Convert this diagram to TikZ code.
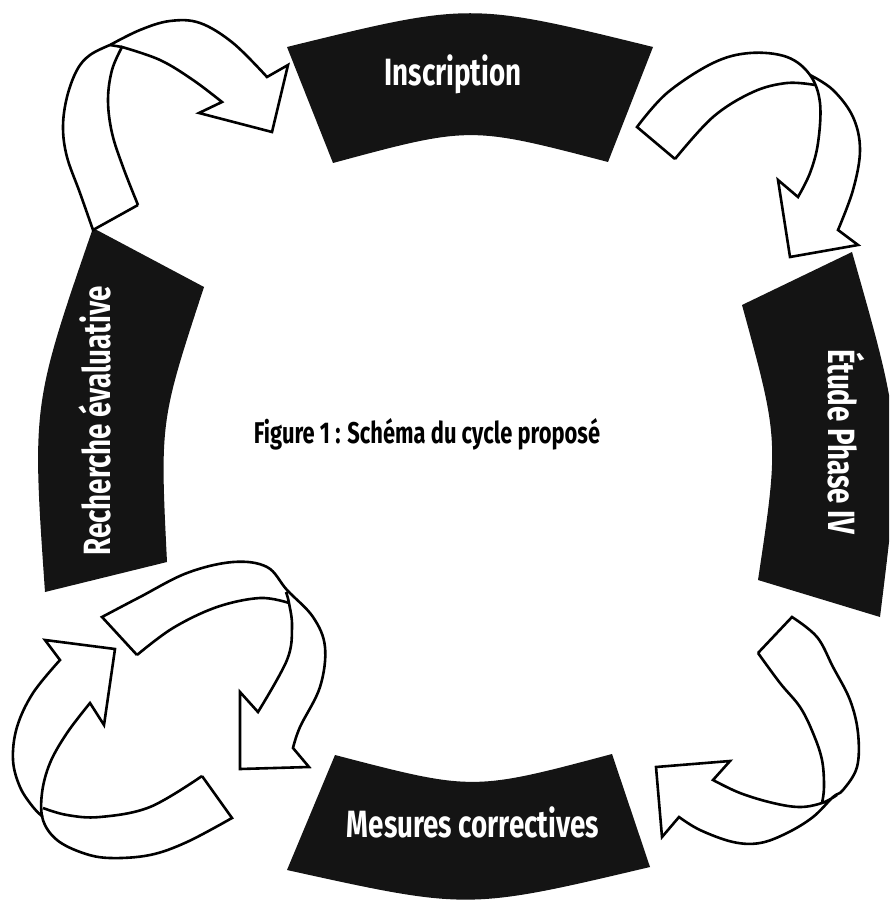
\documentclass[tikz,border=0pt]{standalone}
\usepackage{fontspec}
\newfontfamily\cyclefont[FakeStretch=0.73]{Fira Sans}

\begin{document}
\begin{tikzpicture}[
    x=0.5pt, y=-0.5pt,
    phase/.style={fill=black!92, draw=none},
    phaselabel/.style={text=white, font=\cyclefont\bfseries\fontsize{19}{19}\selectfont, anchor=base, inner sep=0pt},
    titletext/.style={text=black, font=\cyclefont\bfseries\fontsize{15}{15}\selectfont, anchor=base, inner sep=0pt},
    ribbon/.style={draw=black, line width=1.3pt, line join=miter},
    smoothcurve/.style={smooth, tension=0.6}
]
\useasboundingbox (0,0) rectangle (889,903);
\clip (0,0) rectangle (889,903);

% the four phases of the cycle
\fill[phase] (287,47) .. controls (470,2) .. (653,47) -- (608,162) .. controls (470,126) .. (333,163) -- cycle;
\fill[phase] (852,252) .. controls (903,431) .. (880,617) -- (758,580) .. controls (779,440) .. (742,305) -- cycle;
\fill[phase] (335,755) .. controls (473,791) .. (612,754) -- (650,867) .. controls (468,910) .. (287,870) -- cycle;
\fill[phase] (93,228) -- (204,287) .. controls (160,421) .. (167,562) -- (45,592) .. controls (32,405) .. (93,228) -- cycle;

\node[phaselabel] (inscription) at (453,86) {Inscription};
\node[phaselabel, rotate=-90] (etude) at (828,442) {Étude Phase IV};
\node[phaselabel] (mesures) at (473,837) {Mesures correctives};
\node[phaselabel, rotate=90] (recherche) at (110,421) {Recherche évaluative};

% caption in the middle
\node[titletext] (title) at (427,443) {Figure 1 : Schéma du cycle proposé};

% Recherche -> Inscription
\draw[ribbon] (138,205) -- plot[smoothcurve] coordinates {(93,230) (80,193) (67,157) (63,127) (67,97) (77,70) (90,55) (110,45)}
    -- plot[smoothcurve] coordinates {(110,45) (140,30) (170,21) (200,23) (233,43) (267,77)}
    -- (288,65) -- (272,132) -- (199,113) -- (222,102)
    -- plot[smoothcurve] coordinates {(222,102) (193,80) (160,60) (122,47)}
    -- plot[smoothcurve] coordinates {(122,47) (112,70) (108,100) (112,133) (123,167) (138,205)};
\draw[ribbon] (110,45) -- (122,47);

% Inscription -> Etude
\draw[ribbon] (675,159) -- plot[smoothcurve] coordinates {(637,127) (667,93) (713,63) (750,53) (787,57) (810,75) (820,103) (818,143) (810,173) (798,197)}
    -- (778,180) -- (790,257) -- (858,245) -- (838,230)
    -- plot[smoothcurve] coordinates {(838,230) (853,190) (860,150) (853,117) (833,90) (810,75)};
\draw[ribbon] plot[smoothcurve] coordinates {(675,159) (713,117) (753,92) (787,83) (815,85)};

% Etude -> Mesures
\draw[ribbon] (758,653) -- plot[smoothcurve] coordinates {(792,617) (817,637) (833,667) (850,700) (858,733) (857,767) (843,790) (833,797) (813,817) (787,833) (760,843) (733,842) (700,830) (679,817)}
    -- (662,837) -- (656,767) -- (730,761) -- (713,780)
    -- plot[smoothcurve] coordinates {(713,780) (740,793) (773,803) (800,807) (822,803) (837,795)};
\draw[ribbon] plot[smoothcurve] coordinates {(758,653) (780,683) (800,707) (813,733) (822,760) (824,787) (822,803)};

% Mesures -> Recherche, two ribbons
\draw[ribbon] (202,776) -- plot[smoothcurve] coordinates {(232,818) (187,842) (150,855) (110,858) (83,853) (57,840) (43,820) (42,793) (50,763) (67,733) (90,703)}
    -- (104,725) -- (115,649) -- (45,640) -- (60,660)
    -- plot[smoothcurve] coordinates {(60,660) (33,693) (17,727) (13,760) (20,787) (33,807) (43,817)};
\draw[ribbon] plot[smoothcurve] coordinates {(43,808) (67,815) (100,817) (150,807) (202,776)};

\draw[ribbon] (137,655) -- plot[smoothcurve] coordinates {(102,617) (140,597) (187,573) (233,562) (267,567) (287,590) (313,617) (325,647) (320,687) (300,727) (293,748)}
    -- (309,767) -- (240,769) -- (240,692) -- (258,712)
    -- plot[smoothcurve] coordinates {(258,712) (287,660) (292,627) (289,603) (286,592)};
\draw[ribbon] plot[smoothcurve] coordinates {(137,655) (173,628) (217,607) (260,598) (289,603)};

\end{tikzpicture}
\end{document}
